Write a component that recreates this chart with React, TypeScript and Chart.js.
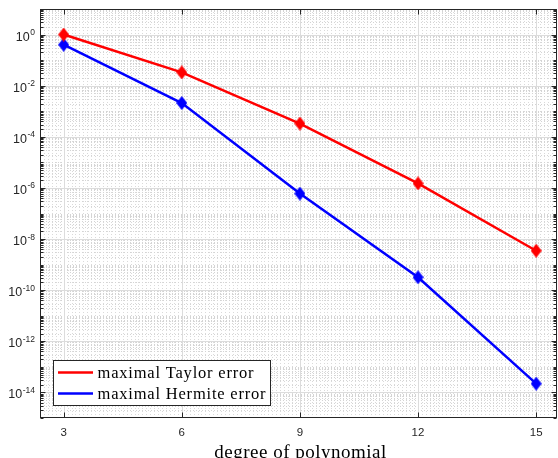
import { useEffect, useRef } from 'react';
import { Chart, registerables } from 'chart.js';

Chart.register(...registerables);

const degrees = [3, 6, 9, 12, 15];
const taylorError = [1.0, 3.3e-2, 3.3e-4, 1.5e-6, 3.5e-9];
const hermiteError = [0.4, 2.1e-3, 6.0e-7, 3.2e-10, 2.2e-14];
const xTicks = [3, 6, 9, 12, 15];
const yTickExponents = [0, -2, -4, -6, -8, -10, -12, -14];
const seriesLabels = ['maximal Taylor error', 'maximal Hermite error'];
const seriesColors = ['#ff0000', '#0000ff'];
const xAxisTitle = 'degree of polynomial';

const AX = '#262626';

function makeDiamond(color: string) {
  const c = document.createElement('canvas');
  c.width = 11;
  c.height = 14;
  const g = c.getContext('2d')!;
  g.fillStyle = color;
  g.beginPath();
  g.moveTo(5.5, 0);
  g.lineTo(11, 7);
  g.lineTo(5.5, 14);
  g.lineTo(0, 7);
  g.closePath();
  g.fill();
  return c;
}

const gridPlugin = {
  id: 'matlabGrid',
  beforeDatasetsDraw(chart: any) {
    const { ctx, chartArea: a, scales } = chart;
    const x = scales.x;
    const y = scales.y;
    ctx.save();
    ctx.beginPath();
    ctx.rect(a.left, a.top, a.right - a.left, a.bottom - a.top);
    ctx.clip();
    // minor vertical
    ctx.strokeStyle = '#dadada';
    ctx.lineWidth = 1;
    ctx.setLineDash([1, 2]);
    for (let i = 24; i <= 156; i++) {
      const v = i / 10;
      if (xTicks.includes(v)) continue;
      const px = Math.round(x.getPixelForValue(v)) + 0.5;
      ctx.beginPath();
      ctx.moveTo(px, a.top);
      ctx.lineTo(px, a.bottom);
      ctx.stroke();
    }
    // minor horizontal
    ctx.strokeStyle = '#d4d4d4';
    for (let n = -15; n <= 0; n++) {
      for (let k = 1; k <= 9; k++) {
        if (k === 1 && yTickExponents.includes(n)) continue;
        const py = Math.round(y.getPixelForValue(k * Math.pow(10, n))) + 0.5;
        ctx.beginPath();
        ctx.moveTo(a.left, py);
        ctx.lineTo(a.right, py);
        ctx.stroke();
      }
    }
    ctx.setLineDash([]);
    ctx.strokeStyle = '#dcdcdc';
    for (const v of xTicks) {
      const px = Math.round(x.getPixelForValue(v)) + 0.5;
      ctx.beginPath();
      ctx.moveTo(px, a.top);
      ctx.lineTo(px, a.bottom);
      ctx.stroke();
    }
    for (const e of yTickExponents) {
      const py = Math.round(y.getPixelForValue(Math.pow(10, e))) + 0.5;
      ctx.beginPath();
      ctx.moveTo(a.left, py);
      ctx.lineTo(a.right, py);
      ctx.stroke();
    }
    ctx.restore();
  },
  afterDraw(chart: any) {
    const { ctx, chartArea: a, scales } = chart;
    const x = scales.x;
    const y = scales.y;
    ctx.save();
    const L = a.left + 0.5;
    const R = a.right - 0.5;
    const T = a.top + 0.5;
    const B = a.bottom - 0.5;
    ctx.strokeStyle = AX;
    ctx.lineWidth = 1;
    ctx.strokeRect(L, T, R - L, B - T);
    ctx.beginPath();
    for (const v of xTicks) {
      const px = Math.round(x.getPixelForValue(v)) + 0.5;
      ctx.moveTo(px, B);
      ctx.lineTo(px, B - 5);
      ctx.moveTo(px, T);
      ctx.lineTo(px, T + 5);
    }
    for (let n = -15; n <= 0; n++) {
      for (let k = 1; k <= 9; k++) {
        const major = k === 1 && yTickExponents.includes(n);
        const len = major ? 5 : 3;
        const py = Math.round(y.getPixelForValue(k * Math.pow(10, n))) + 0.5;
        ctx.moveTo(L, py);
        ctx.lineTo(L + len, py);
        ctx.moveTo(R, py);
        ctx.lineTo(R - len, py);
      }
    }
    ctx.stroke();

    // x tick labels
    ctx.fillStyle = AX;
    ctx.font = '11.5px "Liberation Sans", Arial, sans-serif';
    ctx.textAlign = 'center';
    ctx.textBaseline = 'middle';
    for (const v of xTicks) {
      ctx.fillText(String(v), x.getPixelForValue(v), a.bottom + 15);
    }
    // y tick labels with superscripts
    ctx.textBaseline = 'alphabetic';
    ctx.textAlign = 'left';
    for (const e of yTickExponents) {
      const py = y.getPixelForValue(Math.pow(10, e));
      const sup = String(e);
      ctx.font = '8.5px "Liberation Sans", Arial, sans-serif';
      const sw = ctx.measureText(sup).width;
      ctx.font = '12.5px "Liberation Sans", Arial, sans-serif';
      const bw = ctx.measureText('10').width;
      const right = 35;
      ctx.fillText('10', right - sw - bw - 0.5, py + 6);
      ctx.font = '8.5px "Liberation Sans", Arial, sans-serif';
      ctx.fillText(sup, right - sw, py + 0.5);
    }
    // x axis title
    ctx.font = '19px "Liberation Serif", "Times New Roman", serif';
    (ctx as any).letterSpacing = '0.5px';
    ctx.textAlign = 'center';
    ctx.fillStyle = '#000000';
    ctx.fillText(xAxisTitle, (a.left + a.right) / 2 + 2, 458);

    // legend
    const bx = 53.5, by = 360.5, bw2 = 217, bh = 45;
    ctx.fillStyle = '#ffffff';
    ctx.fillRect(bx, by, bw2, bh);
    ctx.strokeStyle = AX;
    ctx.lineWidth = 1;
    ctx.strokeRect(bx, by, bw2, bh);
    const rows = [372.5, 393.5];
    ctx.font = '16.5px "Liberation Serif", "Times New Roman", serif';
    (ctx as any).letterSpacing = '0.8px';
    ctx.textAlign = 'left';
    ctx.textBaseline = 'alphabetic';
    seriesLabels.forEach((lab, i) => {
      ctx.strokeStyle = seriesColors[i];
      ctx.lineWidth = 2.5;
      ctx.beginPath();
      ctx.moveTo(58, rows[i]);
      ctx.lineTo(93, rows[i]);
      ctx.stroke();
      ctx.fillStyle = '#000000';
      ctx.fillText(lab, 97.5, rows[i] + 5);
    });
    ctx.restore();
  },
};

export default function App() {
  const ref = useRef<HTMLCanvasElement>(null);
  useEffect(() => {
    if (!ref.current) return;
    const chart = new Chart(ref.current, {
      type: 'line',
      data: {
        datasets: [taylorError, hermiteError].map((vals, i) => ({
          label: seriesLabels[i],
          data: degrees.map((d, j) => ({ x: d, y: vals[j] })),
          borderColor: seriesColors[i],
          backgroundColor: seriesColors[i],
          borderWidth: 2.5,
          pointStyle: makeDiamond(seriesColors[i]) as any,
          pointRadius: 6,
          pointHoverRadius: 6,
          tension: 0,
        })),
      },
      options: {
        animation: false,
        responsive: false,
        devicePixelRatio: 1,
        events: [],
        layout: { autoPadding: false, padding: { left: 40, top: 9, right: 1, bottom: 40 } },
        plugins: { legend: { display: false }, tooltip: { enabled: false }, title: { display: false } },
        scales: {
          x: { type: 'linear', display: false, min: 2.4, max: 15.53 },
          y: { type: 'logarithmic', display: false, min: 1e-15, max: 10 },
        },
      },
      plugins: [gridPlugin],
    });
    return () => chart.destroy();
  }, []);
  return (
    <div style={{ position: 'fixed', left: 0, top: 0, width: 558, height: 458, background: '#fff' }}>
      <canvas ref={ref} width={558} height={458} style={{ display: 'block' }} />
    </div>
  );
}
